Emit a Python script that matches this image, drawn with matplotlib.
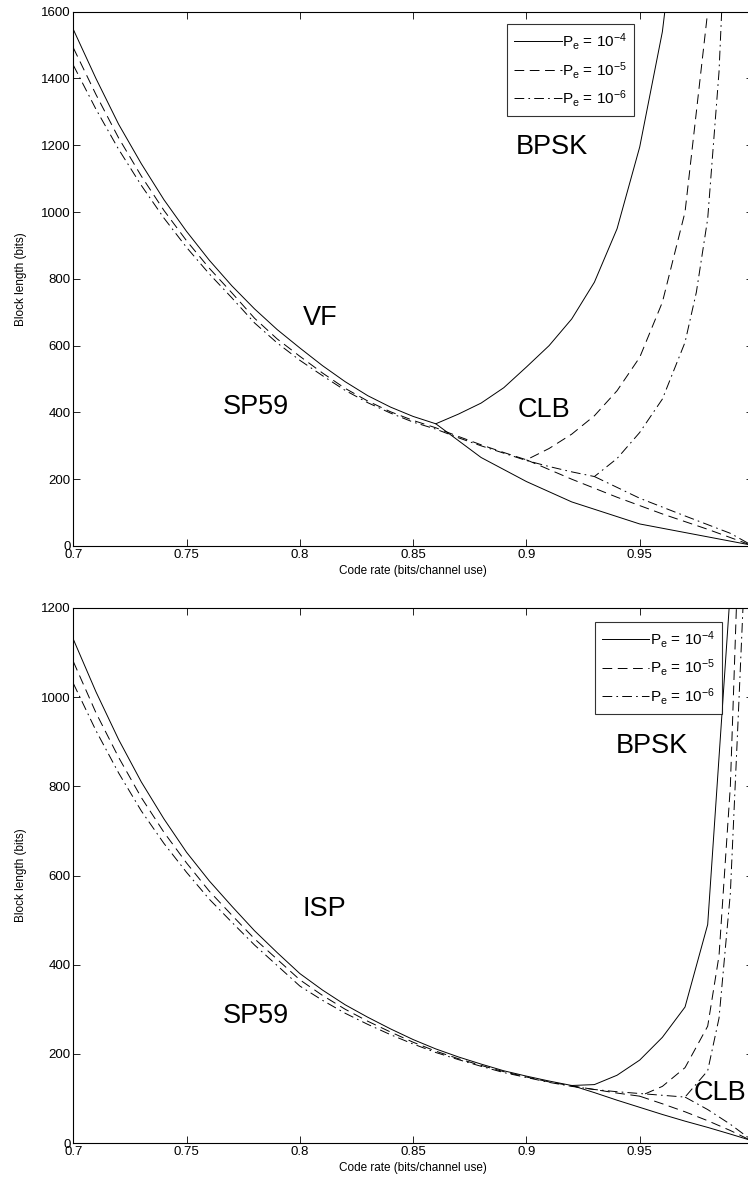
import matplotlib
matplotlib.use("Agg")
import matplotlib.pyplot as plt

plt.rcParams['font.family'] = ['Liberation Sans', 'DejaVu Sans']
plt.rcParams['mathtext.default'] = 'regular'
plt.rcParams['lines.scale_dashes'] = False

# ---- top panel (VF / SP59) ----
top_left_rate = [0.70, 0.71, 0.72, 0.73, 0.74, 0.75, 0.76, 0.77, 0.78, 0.79, 0.80,
                 0.81, 0.82, 0.83, 0.84, 0.85, 0.86, 0.87, 0.88, 0.89, 0.90,
                 0.91, 0.92, 0.93]
top_pe4_left = [1547, 1400, 1263, 1145, 1037, 942, 856, 779, 710, 648, 593,
                540, 492, 450, 416, 388, 366]
top_pe5_left = [1492, 1352, 1222, 1108, 1005, 914, 832, 758, 682, 620, 568,
                518, 472, 434, 402, 376, 354, 328, 303, 280, 258]
top_pe6_left = [1440, 1308, 1188, 1080, 982, 894, 815, 743, 668, 608, 556,
                510, 466, 429, 398, 371, 350, 324, 300, 278, 256, 238, 222, 208]

top_pe4_up_rate = [0.86, 0.87, 0.88, 0.89, 0.90, 0.91, 0.92, 0.93, 0.94, 0.95, 0.96, 0.97]
top_pe4_up = [366, 395, 428, 474, 536, 600, 680, 790, 950, 1195, 1540, 2100]
top_pe5_up_rate = [0.90, 0.91, 0.92, 0.93, 0.94, 0.95, 0.96, 0.97, 0.975, 0.98, 0.985]
top_pe5_up = [258, 292, 335, 390, 465, 565, 730, 1000, 1300, 1600, 2000]
top_pe6_up_rate = [0.93, 0.94, 0.95, 0.96, 0.97, 0.975, 0.98, 0.985, 0.9865, 0.99]
top_pe6_up = [208, 262, 340, 440, 610, 760, 980, 1420, 1650, 2200]

top_pe4_low_rate = [0.86, 0.88, 0.90, 0.92, 0.95, 0.999]
top_pe4_low = [366, 265, 193, 132, 66, 3]
top_pe5_low_rate = [0.90, 0.92, 0.94, 0.96, 0.98, 0.999]
top_pe5_low = [258, 200, 146, 96, 50, 3]
top_pe6_low_rate = [0.93, 0.95, 0.97, 0.99, 0.999]
top_pe6_low = [208, 143, 90, 38, 4]

# ---- bottom panel (ISP / SP59) ----
bot_left_rate = [0.70, 0.71, 0.72, 0.73, 0.74, 0.75, 0.76, 0.77, 0.78, 0.79, 0.80,
                 0.81, 0.82, 0.83, 0.84, 0.85, 0.86, 0.87, 0.88, 0.89, 0.90,
                 0.91, 0.92, 0.93, 0.94, 0.95, 0.96, 0.97]
bot_pe4_left = [1130, 1012, 905, 810, 727, 652, 588, 531, 476, 427, 380,
                343, 310, 282, 256, 232, 211, 193, 177, 162, 150, 139, 129]
bot_pe5_left = [1080, 965, 865, 775, 697, 628, 565, 511, 458, 412, 366,
                331, 300, 273, 249, 226, 206, 189, 174, 160, 148, 137, 128,
                120, 112, 105]
bot_pe6_left = [1031, 925, 830, 745, 672, 607, 547, 495, 444, 398, 352,
                320, 291, 266, 243, 222, 203, 187, 172, 158, 147, 136, 127,
                120, 115, 111, 107, 103]

bot_pe4_up_rate = [0.92, 0.93, 0.94, 0.95, 0.96, 0.97, 0.98, 0.99]
bot_pe4_up = [129, 131, 152, 186, 237, 305, 490, 1240]
bot_pe5_up_rate = [0.95, 0.96, 0.97, 0.98, 0.985, 0.99, 0.993]
bot_pe5_up = [105, 127, 169, 262, 420, 800, 1250]
bot_pe6_up_rate = [0.97, 0.98, 0.985, 0.99, 0.993, 0.996]
bot_pe6_up = [103, 162, 280, 560, 900, 1250]

bot_pe4_low_rate = [0.92, 0.93, 0.94, 0.95, 0.96, 0.97, 0.98, 0.99, 0.999]
bot_pe4_low = [129, 113, 96, 80, 64, 49, 35, 20, 6]
bot_pe5_low_rate = [0.95, 0.96, 0.97, 0.98, 0.99, 0.999]
bot_pe5_low = [105, 88, 70, 50, 28, 6]
bot_pe6_low_rate = [0.97, 0.98, 0.99, 0.999]
bot_pe6_low = [103, 75, 42, 8]

pe_labels = [r'P$_e$ = 10$^{-4}$', r'P$_e$ = 10$^{-5}$', r'P$_e$ = 10$^{-6}$']
styles = [dict(linestyle='-'),
          dict(linestyle='--', dashes=(7, 4)),
          dict(linestyle='-.', dashes=(7, 3, 1.2, 3))]

xticks = [0.7, 0.75, 0.8, 0.85, 0.9, 0.95]
xticklabels = ['0.7', '0.75', '0.8', '0.85', '0.9', '0.95']

W, H = 748, 1189
fig = plt.figure(figsize=(W / 100, H / 100), dpi=100)
ax_l = 73.3 / W
ax_w = (753 - 73.3) / W
ax1 = fig.add_axes([ax_l, 1 - 546 / H, ax_w, 534.3 / H])
ax2 = fig.add_axes([ax_l, 1 - 1143 / H, ax_w, 535 / H])


def draw_panel(ax, left_rate, lefts, ups, lows):
    handles = []
    for i in range(3):
        n = len(lefts[i])
        xr = left_rate[:n] + ups[i][0][1:]
        yr = lefts[i] + ups[i][1][1:]
        h, = ax.plot(xr, yr, color='black', lw=0.7, **styles[i])
        ax.plot(lows[i][0], lows[i][1], color='black', lw=0.7, **styles[i])
        handles.append(h)
    return handles


h1 = draw_panel(ax1, top_left_rate,
                [top_pe4_left, top_pe5_left, top_pe6_left],
                [(top_pe4_up_rate, top_pe4_up), (top_pe5_up_rate, top_pe5_up),
                 (top_pe6_up_rate, top_pe6_up)],
                [(top_pe4_low_rate, top_pe4_low), (top_pe5_low_rate, top_pe5_low),
                 (top_pe6_low_rate, top_pe6_low)])
h2 = draw_panel(ax2, bot_left_rate,
                [bot_pe4_left, bot_pe5_left, bot_pe6_left],
                [(bot_pe4_up_rate, bot_pe4_up), (bot_pe5_up_rate, bot_pe5_up),
                 (bot_pe6_up_rate, bot_pe6_up)],
                [(bot_pe4_low_rate, bot_pe4_low), (bot_pe5_low_rate, bot_pe5_low),
                 (bot_pe6_low_rate, bot_pe6_low)])

ax1.set_ylim(0, 1600)
ax1.set_yticks(range(0, 1601, 200))
ax2.set_ylim(0, 1200)
ax2.set_yticks(range(0, 1201, 200))

for ax in (ax1, ax2):
    ax.set_xlim(0.7, 1.0)
    ax.set_xticks(xticks)
    ax.set_xticklabels(xticklabels)
    ax.tick_params(direction='in', top=True, right=True, length=5, width=0.6,
                   labelsize=9.5, pad=2)
    for s in ax.spines.values():
        s.set_linewidth(0.8)
    ax.set_xlabel('Code rate (bits/channel use)', fontsize=8.5, labelpad=3)
    ax.set_ylabel('Block length (bits)', fontsize=8.5, labelpad=10)

leg_kw = dict(loc='upper right', fontsize=11, handlelength=3.1, frameon=True,
              fancybox=False, edgecolor='black', borderpad=0.45, labelspacing=0.5,
              handletextpad=0.05, borderaxespad=0)
lg1 = ax1.legend(h1, pe_labels, bbox_to_anchor=(0.825, 0.977), **leg_kw)
lg2 = ax2.legend(h2, pe_labels, bbox_to_anchor=(0.954, 0.974), **leg_kw)
for lg in (lg1, lg2):
    lg.get_frame().set_linewidth(0.8)

tfs = 19.5
ax1.text(0.809, 683, 'VF', fontsize=tfs, ha='center', va='center')
ax1.text(0.7807, 415, 'SP59', fontsize=tfs, ha='center', va='center')
ax1.text(0.9113, 1195, 'BPSK', fontsize=tfs, ha='center', va='center')
ax1.text(0.9077, 407, 'CLB', fontsize=tfs, ha='center', va='center')
ax2.text(0.8106, 525, 'ISP', fontsize=tfs, ha='center', va='center')
ax2.text(0.7807, 285, 'SP59', fontsize=tfs, ha='center', va='center')
ax2.text(0.9553, 890, 'BPSK', fontsize=tfs, ha='center', va='center')
ax2.text(0.9853, 112, 'CLB', fontsize=tfs, ha='center', va='center')

fig.savefig('out.png', dpi=100)
